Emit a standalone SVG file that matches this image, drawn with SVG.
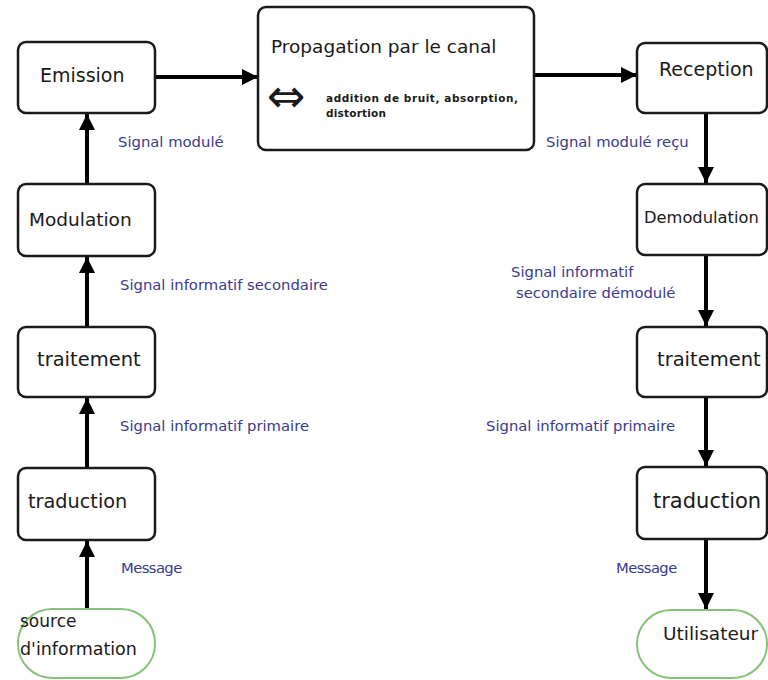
<svg xmlns="http://www.w3.org/2000/svg" width="768" height="680" viewBox="0 0 768 680">
<defs>
<style>
.box{fill:#fff;stroke:#1a1a1a;stroke-width:2.5}
.term{fill:#fff;stroke:#86c27a;stroke-width:2}
.lbl{font-family:"DejaVu Sans",sans-serif;fill:#1a1a1a}
.sig{font-family:"DejaVu Sans",sans-serif;font-size:14.8px;fill:#3a3a8e}
.edge{stroke:#000;stroke-width:4;fill:none;marker-end:url(#ah)}
</style>
<marker id="ah" markerUnits="userSpaceOnUse" markerWidth="18" markerHeight="18" refX="16" refY="8" orient="auto">
<path d="M0,0 L16,8 L0,16 z" fill="#000"/>
</marker>
</defs>
<rect width="768" height="680" fill="#fff"/>

<g id="edges">
<line class="edge" x1="155" y1="77" x2="258" y2="77"/>
<line class="edge" x1="534" y1="75" x2="637" y2="75"/>
<line class="edge" x1="87" y1="184" x2="87" y2="114"/>
<line class="edge" x1="87" y1="327" x2="87" y2="257"/>
<line class="edge" x1="87" y1="468" x2="87" y2="398"/>
<line class="edge" x1="87" y1="609" x2="87" y2="541"/>
<line class="edge" x1="706" y1="113" x2="706" y2="183"/>
<line class="edge" x1="706" y1="255" x2="706" y2="326"/>
<line class="edge" x1="706" y1="397" x2="706" y2="466"/>
<line class="edge" x1="706" y1="539" x2="706" y2="609"/>
</g>

<g id="labels">
<text class="sig" x="118" y="147">Signal modulé</text>
<text class="sig" x="546" y="147">Signal modulé reçu</text>
<text class="sig" x="120" y="290">Signal informatif secondaire</text>
<text class="sig" x="511" y="277">Signal informatif</text>
<text class="sig" x="516" y="298">secondaire démodulé</text>
<text class="sig" x="120" y="431">Signal informatif primaire</text>
<text class="sig" x="486" y="431">Signal informatif primaire</text>
<text class="sig" x="121" y="573" font-size="14" letter-spacing="-0.6">Message</text>
<text class="sig" x="616" y="573" font-size="14" letter-spacing="-0.6">Message</text>
</g>

<g id="emission">
<rect class="box" x="18" y="42" width="137" height="71" rx="8"/>
<text class="lbl" x="40" y="82" font-size="19">Emission</text>
</g>
<g id="propagation">
<rect class="box" x="258" y="7" width="276" height="143" rx="8"/>
<text class="lbl" x="271" y="53" font-size="18.5">Propagation par le canal</text>
<text class="lbl" x="267" y="112" font-size="46">⇔</text>
<text class="lbl" x="326" y="102" font-size="10.5" font-weight="bold" textLength="192">addition de bruit, absorption,</text>
<text class="lbl" x="326" y="117" font-size="10.5" font-weight="bold" textLength="60">distortion</text>
</g>
<g id="reception">
<rect class="box" x="637" y="43" width="130" height="70" rx="8"/>
<text class="lbl" x="659" y="76" font-size="19">Reception</text>
</g>
<g id="modulation">
<rect class="box" x="18" y="184" width="137" height="72" rx="8"/>
<text class="lbl" x="29" y="226" font-size="18.5">Modulation</text>
</g>
<g id="demodulation">
<rect class="box" x="637" y="184" width="130" height="71" rx="8"/>
<text class="lbl" x="644" y="223" font-size="16.3">Demodulation</text>
</g>
<g id="traitement-emission">
<rect class="box" x="18" y="327" width="137" height="70" rx="8"/>
<text class="lbl" x="37" y="366" font-size="19.5">traitement</text>
</g>
<g id="traitement-reception">
<rect class="box" x="637" y="327" width="130" height="70" rx="8"/>
<text class="lbl" x="657" y="366" font-size="19.5">traitement</text>
</g>
<g id="traduction-emission">
<rect class="box" x="18" y="468" width="137" height="72" rx="8"/>
<text class="lbl" x="28" y="508" font-size="19.3">traduction</text>
</g>
<g id="traduction-reception">
<rect class="box" x="637" y="467" width="130" height="72" rx="8"/>
<text class="lbl" x="653" y="508" font-size="21">traduction</text>
</g>
<g id="source">
<rect class="term" x="18" y="609" width="137" height="69" rx="34"/>
<text class="lbl" x="20" y="627" font-size="17">source</text>
<text class="lbl" x="20" y="655" font-size="17.5">d'information</text>
</g>
<g id="utilisateur">
<rect class="term" x="637" y="610" width="130" height="68" rx="34"/>
<text class="lbl" x="663" y="640" font-size="18.5">Utilisateur</text>
</g>
</svg>
